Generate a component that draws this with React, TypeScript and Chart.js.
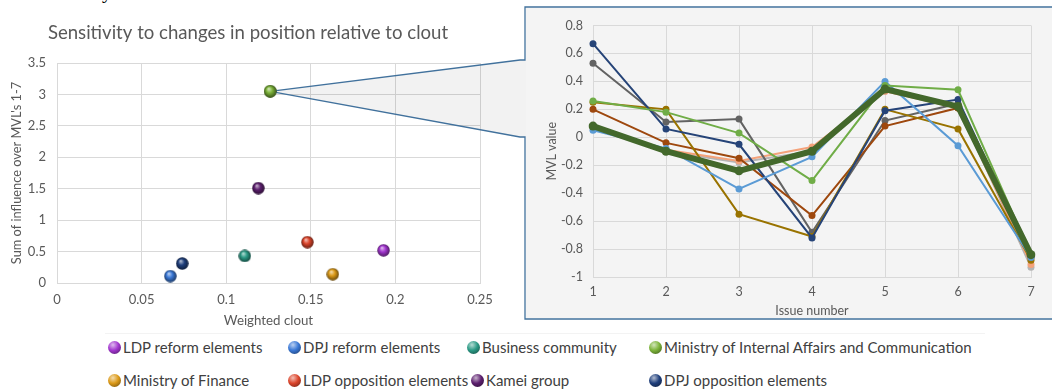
import React, { useEffect, useRef } from 'react';
import { Chart, registerables } from 'chart.js';

Chart.register(...registerables);

// ---------- Data ----------
const groups = [
  'LDP reform elements',
  'DPJ reform elements',
  'Business community',
  'Ministry of Internal Affairs and Communication',
  'Ministry of Finance',
  'LDP opposition elements',
  'Kamei group',
  'DPJ opposition elements',
];
const groupColors = ['#a236cf', '#3a78d6', '#2b9a85', '#7db43a', '#dc9a18', '#dc452b', '#5c1f6e', '#1f3f7c'];
const weightedClout = [0.193, 0.067, 0.111, 0.126, 0.163, 0.148, 0.119, 0.074];
const influenceSum = [0.52, 0.11, 0.43, 3.05, 0.14, 0.65, 1.51, 0.31];
const highlightedGroup = 'Ministry of Internal Affairs and Communication';

const issueNumbers = ['1', '2', '3', '4', '5', '6', '7'];
const mvlAverage = [0.08, -0.1, -0.24, -0.1, 0.345, 0.22, -0.84];
const mvlLightBlue = [0.05, -0.08, -0.37, -0.14, 0.4, -0.06, -0.86];
const mvlOrange = [0.07, -0.09, -0.17, -0.07, 0.33, 0.21, -0.91];
const mvlGray = [0.08, -0.1, -0.18, -0.1, 0.33, 0.22, -0.93];
const mvlGold = [0.25, 0.2, -0.55, -0.71, 0.2, 0.06, -0.88];
const mvlNavy = [0.67, 0.06, -0.05, -0.72, 0.19, 0.27, -0.85];
const mvlDarkGray = [0.53, 0.11, 0.13, -0.68, 0.12, 0.24, -0.85];
const mvlGreen = [0.26, 0.18, 0.03, -0.31, 0.37, 0.34, -0.84];
const mvlBrown = [0.2, -0.04, -0.15, -0.56, 0.08, 0.21, -0.86];

// ---------- Layout / style constants ----------
const FONT = 'Lato';
const TEXT = '#595959';
const GRID = '#d9d9d9';
const BOX_LINE = '#41719c';
const legendRows = [
  [0, 1, 2, 3],
  [4, 5, 6, 7],
];
const legendCols = [[114, 294, 473, 655], [114, 294, 477, 655]];
const legendRowY = [347, 380];

const numLabel = (v: any) => String(Number(Number(v).toFixed(2)));

function hexToRgb(hex: string) {
  const h = hex.replace('#', '');
  return [parseInt(h.slice(0, 2), 16), parseInt(h.slice(2, 4), 16), parseInt(h.slice(4, 6), 16)];
}
function mix(hex: string, target: number, t: number) {
  const [r, g, b] = hexToRgb(hex);
  const f = (v: number) => Math.round(v + (target - v) * t);
  return `rgb(${f(r)},${f(g)},${f(b)})`;
}
function sphere(color: string, d: number) {
  const c = document.createElement('canvas');
  c.width = d;
  c.height = d;
  const g = c.getContext('2d')!;
  const r = d / 2;
  const grad = g.createRadialGradient(r * 0.75, r * 0.6, r * 0.05, r, r, r);
  grad.addColorStop(0, mix(color, 255, 0.65));
  grad.addColorStop(0.45, color);
  grad.addColorStop(1, mix(color, 0, 0.55));
  g.fillStyle = grad;
  g.beginPath();
  g.arc(r, r, r - 0.3, 0, Math.PI * 2);
  g.fill();
  return c;
}

const calloutPlugin = {
  id: 'callout',
  afterDraw(chart: any) {
    const idx = groups.indexOf(highlightedGroup);
    const el = chart.getDatasetMeta(0).data[idx];
    if (!el) return;
    const ctx = chart.ctx;
    const px = el.x;
    const py = el.y;
    const ax = 520, ay = 60, by = 137, bx = 525, top = 7, bottom = 319, right = 1052;
    ctx.save();
    ctx.fillStyle = 'rgba(0,0,0,0.05)';
    ctx.beginPath();
    ctx.moveTo(px, py);
    ctx.lineTo(ax, ay);
    ctx.lineTo(bx + 1, ay);
    ctx.lineTo(bx + 1, by);
    ctx.lineTo(ax, by);
    ctx.closePath();
    ctx.fill();
    ctx.strokeStyle = BOX_LINE;
    ctx.lineWidth = 1.3;
    ctx.beginPath();
    ctx.moveTo(px, py);
    ctx.lineTo(ax, ay);
    ctx.lineTo(bx, ay);
    ctx.lineTo(bx, top);
    ctx.lineTo(right, top);
    ctx.moveTo(px, py);
    ctx.lineTo(ax, by);
    ctx.lineTo(bx, by);
    ctx.lineTo(bx, bottom);
    ctx.lineTo(right, bottom);
    ctx.stroke();
    const img = chart.data.datasets[0].pointStyle[idx];
    ctx.drawImage(img, px - img.width / 2, py - img.height / 2);
    ctx.restore();
  },
};

const titlePlugin = {
  id: 'customTitle',
  afterDraw(chart: any) {
    const ctx = chart.ctx;
    ctx.save();
    ctx.fillStyle = TEXT;
    ctx.font = `18.6px ${FONT}`;
    ctx.textAlign = 'center';
    ctx.textBaseline = 'middle';
    ctx.fillText('Sensitivity to changes in position relative to clout', 248, 33);
    ctx.restore();
  },
};

function ScatterChart() {
  const ref = useRef<HTMLCanvasElement>(null);
  useEffect(() => {
    const images = groupColors.map((c) => sphere(c, 13));
    const chart = new Chart(ref.current!, {
      type: 'scatter',
      data: {
        datasets: [
          {
            data: groups.map((_, i) => ({ x: weightedClout[i], y: influenceSum[i] })),
            pointStyle: images as any,
            pointRadius: 7,
            pointHoverRadius: 7,
          },
        ],
      },
      options: {
        animation: false,
        responsive: false,
        events: [],
        layout: { padding: { left: 0, right: 572, top: 63, bottom: 0 } },
        plugins: { legend: { display: false }, tooltip: { enabled: false } },
        scales: {
          x: {
            type: 'linear',
            min: 0,
            max: 0.25,
            ticks: { stepSize: 0.05, color: TEXT, font: { family: FONT, size: 13 }, padding: 9, callback: numLabel },
            grid: { color: GRID, drawTicks: false },
            border: { color: GRID },
            title: {
              display: true,
              text: 'Weighted clout',
              color: TEXT,
              font: { family: FONT, size: 13.3 },
              padding: { top: 0, bottom: 1 },
            },
            afterFit: (s: any) => {
              s.height = 47;
            },
          },
          y: {
            min: 0,
            max: 3.5,
            ticks: { stepSize: 0.5, color: TEXT, font: { family: FONT, size: 13 }, padding: 11, callback: numLabel },
            grid: { color: GRID, drawTicks: false },
            border: { color: GRID },
            title: {
              display: true,
              text: "Sum of influence over MVL's 1-7",
              color: TEXT,
              font: { family: FONT, size: 12.8 },
              padding: { top: 9, bottom: 0 },
            },
            afterFit: (s: any) => {
              s.width = 57;
            },
          },
        },
      } as any,
      plugins: [calloutPlugin, titlePlugin],
    });
    return () => chart.destroy();
  }, []);
  return (
    <canvas
      ref={ref}
      width={1052}
      height={330}
      style={{ position: 'absolute', left: 0, top: 0, width: 1052, height: 330 }}
    />
  );
}

function LineChart() {
  const ref = useRef<HTMLCanvasElement>(null);
  useEffect(() => {
    const thin = (data: number[], color: string) => ({
      data,
      borderColor: color,
      backgroundColor: color,
      borderWidth: 2,
      pointRadius: 3.5,
      pointBorderWidth: 0,
    });
    const chart = new Chart(ref.current!, {
      type: 'line',
      data: {
        labels: issueNumbers,
        datasets: [
          {
            data: mvlAverage,
            borderColor: '#43682b',
            backgroundColor: '#43682b',
            borderWidth: 6,
            pointRadius: 4.5,
            pointBorderWidth: 0,
          },
          thin(mvlGreen, '#70ad47'),
          thin(mvlLightBlue, '#5b9bd5'),
          thin(mvlNavy, '#264478'),
          thin(mvlGold, '#997300'),
          thin(mvlBrown, '#9e480e'),
          thin(mvlDarkGray, '#636363'),
          thin(mvlOrange, '#f4a27a'),
          thin(mvlGray, '#b4b4b4'),
        ],
      },
      options: {
        animation: false,
        responsive: false,
        events: [],
        layout: { padding: { left: 0, right: 21, top: 14, bottom: 0 } },
        plugins: { legend: { display: false }, tooltip: { enabled: false } },
        scales: {
          x: {
            ticks: { color: TEXT, font: { family: FONT, size: 12.5 }, padding: 7 },
            grid: { color: GRID, drawTicks: false },
            border: { color: GRID },
            title: {
              display: true,
              text: 'Issue number',
              color: TEXT,
              font: { family: FONT, size: 12.5 },
              padding: { top: 0, bottom: 0 },
            },
            afterFit: (s: any) => {
              s.height = 41;
            },
          },
          y: {
            min: -1,
            max: 0.8,
            ticks: { stepSize: 0.2, color: TEXT, font: { family: FONT, size: 12.5 }, padding: 10, callback: numLabel },
            grid: { color: GRID, drawTicks: false },
            border: { color: GRID },
            title: {
              display: true,
              text: 'MVL value',
              color: TEXT,
              font: { family: FONT, size: 12.5 },
              padding: { top: 18, bottom: 0 },
            },
            afterFit: (s: any) => {
              s.width = 67;
            },
          },
        },
      } as any,
    });
    return () => chart.destroy();
  }, []);
  return (
    <canvas
      ref={ref}
      width={526}
      height={310}
      style={{ position: 'absolute', left: 526, top: 8, width: 526, height: 310, background: '#f4f4f4' }}
    />
  );
}

function Legend() {
  return (
    <>
      {legendRows.map((row, r) =>
        row.map((gi, c) => {
          const color = groupColors[gi];
          return (
            <div
              key={gi}
              style={{
                position: 'absolute',
                left: legendCols[r][c] - 6,
                top: legendRowY[r] - 10,
                height: 20,
                display: 'flex',
                alignItems: 'center',
                whiteSpace: 'nowrap',
                fontFamily: FONT,
                fontSize: 15,
                color: '#404040',
              }}
            >
              <span
                style={{
                  display: 'inline-block',
                  width: 13,
                  height: 13,
                  borderRadius: '50%',
                  marginRight: 2,
                  background: `radial-gradient(circle at 38% 30%, ${mix(color, 255, 0.65)} 0%, ${color} 45%, ${mix(
                    color,
                    0,
                    0.55
                  )} 100%)`,
                }}
              />
              {groups[gi]}
            </div>
          );
        })
      )}
    </>
  );
}

export default function App() {
  return (
    <div
      style={{
        position: 'fixed',
        left: 0,
        top: 0,
        width: 1052,
        height: 389,
        overflow: 'hidden',
        background: '#ffffff',
      }}
    >
      <div
        style={{
          position: 'absolute',
          left: 8,
          top: -19,
          fontFamily: '"Liberation Serif", "Times New Roman", serif',
          fontSize: 20,
          lineHeight: '20px',
          whiteSpace: 'nowrap',
          color: '#000',
        }}
      >
        of sensitivity to clout.
      </div>
      <div
        style={{
          position: 'absolute',
          left: 105,
          top: 333,
          width: 880,
          height: 60,
          borderTop: '1px solid #f3f3f3',
        }}
      />
      <ScatterChart />
      <LineChart />
      <Legend />
    </div>
  );
}
